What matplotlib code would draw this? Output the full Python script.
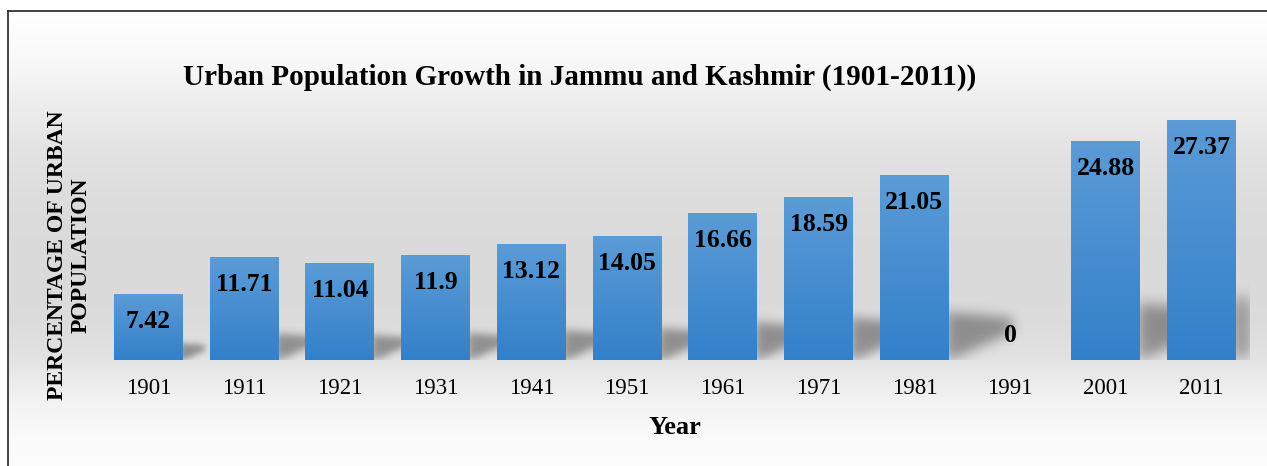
import numpy as np
import matplotlib
matplotlib.use("Agg")
import matplotlib.pyplot as plt
from matplotlib.path import Path
from matplotlib.lines import Line2D
from matplotlib.colors import LinearSegmentedColormap

# Data
years = ['1901', '1911', '1921', '1931', '1941', '1951',
         '1961', '1971', '1981', '1991', '2001', '2011']
urban_pct = [7.42, 11.71, 11.04, 11.9, 13.12, 14.05,
             16.66, 18.59, 21.05, 0, 24.88, 27.37]

# Layout (pixels of the 1267x466 canvas)
FIG_W, FIG_H = 1267, 466
AX_LEFT, AX_RIGHT = 100.6, 1249.4
AX_TOP, AX_BOTTOM = 97.0, 360.0
Y_MAX = 30
BAR_W = 0.72

plt.rcParams['font.family'] = ['Liberation Serif', 'DejaVu Serif']


def blur(arr, sigma):
    """Separable gaussian blur with plain numpy."""
    r = int(3 * sigma) + 1
    k = np.exp(-0.5 * (np.arange(-r, r + 1) / sigma) ** 2)
    k /= k.sum()
    arr = np.apply_along_axis(lambda m: np.convolve(m, k, mode='same'), 0, arr)
    arr = np.apply_along_axis(lambda m: np.convolve(m, k, mode='same'), 1, arr)
    return arr


fig = plt.figure(figsize=(FIG_W / 100, FIG_H / 100), dpi=100)

# grey background gradient inside the frame (one image row per pixel row)
bg_ax = fig.add_axes([8 / FIG_W, 0, 1 - 8 / FIG_W, 1 - 11 / FIG_H])
bg_ax.set_axis_off()
rows = np.arange(11, FIG_H) + 0.5
shade = np.interp(rows, [11, 60, 100, 150, 200, 260, 320, 355, 400, 440, 466],
                  [1.0, 0.975, 0.935, 0.89, 0.865, 0.855, 0.86, 0.885, 0.95, 0.985, 0.99])
bg_img = np.repeat(shade[:, None], 3, axis=1)[:, None, :].repeat(FIG_W - 8, axis=1)
bg_ax.imshow(bg_img, aspect='auto', extent=[0, 1, 0, 1], interpolation='nearest')

# frame lines (top and left)
fig.add_artist(Line2D([8 / FIG_W, 1], [1 - 11 / FIG_H] * 2, color='#222222', lw=1.2))
fig.add_artist(Line2D([8 / FIG_W] * 2, [0, 1 - 11 / FIG_H], color='#222222', lw=1.2))

ax = fig.add_axes([AX_LEFT / FIG_W, 1 - AX_BOTTOM / FIG_H,
                   (AX_RIGHT - AX_LEFT) / FIG_W, (AX_BOTTOM - AX_TOP) / FIG_H])
ax.patch.set_alpha(0)

x = np.arange(len(years))
bars = ax.bar(x, urban_pct, width=BAR_W, color='none', zorder=3)

# perspective shadows behind the bars
px_cat = (AX_RIGHT - AX_LEFT) / len(years)
px_unit = (AX_BOTTOM - AX_TOP) / Y_MAX
nx, ny = int(round(AX_RIGHT - AX_LEFT)), int(round(AX_BOTTOM - AX_TOP))
gx, gy = np.meshgrid(np.arange(nx) + 0.5, np.arange(ny) + 0.5)
pts = np.column_stack([gx.ravel(), gy.ravel()])
shadow = np.zeros((ny, nx))
for i, v in enumerate(urban_pct):
    if v <= 0:
        continue
    h = v * px_unit
    xr = (i + 0.5 + BAR_W / 2) * px_cat
    poly = Path([(xr - 3, -2), (xr - 3, 0.26 * h), (xr + 0.34 * h, 0.23 * h),
                 (xr + 0.34 * h, 0.15 * h)])
    m = poly.contains_points(pts).reshape(ny, nx).astype(float)
    shadow = np.maximum(shadow, blur(m, 1.5 + 0.025 * h))
rgba = np.zeros((ny, nx, 4))
rgba[..., 3] = shadow * 0.36
ax.imshow(rgba, extent=[-0.5, len(years) - 0.5, 0, Y_MAX], origin='lower',
          aspect='auto', zorder=1, interpolation='nearest')

# blue vertical gradient on each bar
bar_cmap = LinearSegmentedColormap.from_list('bar', ['#3380ca', '#5b9bd6'])
grad = np.linspace(0, 1, 256)[:, None]
for b in bars:
    if b.get_height() <= 0:
        continue
    ax.imshow(grad, cmap=bar_cmap, origin='lower', aspect='auto', zorder=3,
              extent=[b.get_x(), b.get_x() + b.get_width(), 0, b.get_height()])

# value labels (inside end)
for i, v in enumerate(urban_pct):
    off = -27 if v > 0 else 25
    ax.annotate(f'{v:g}', (i, v), xytext=(0, off), textcoords='offset pixels',
                ha='center', va='center', fontsize=18.5, fontweight='bold', zorder=4)

ax.set_xlim(-0.5, len(years) - 0.5)
ax.set_ylim(0, Y_MAX)
ax.set_xticks(x, years)
ax.set_yticks([])
ax.tick_params(axis='x', length=0, pad=13, labelsize=16.5)
for s in ax.spines.values():
    s.set_visible(False)

fig.text(580 / FIG_W, 1 - 77 / FIG_H,
         'Urban Population Growth in Jammu and Kashmir (1901-2011))',
         ha='center', va='center', fontsize=21, fontweight='bold')
fig.text(675 / FIG_W, 1 - 427 / FIG_H, 'Year', ha='center', va='center',
         fontsize=19, fontweight='bold')
fig.text(69 / FIG_W, 1 - 255 / FIG_H, 'PERCENTAGE OF URBAN\nPOPULATION',
         ha='center', va='center', rotation=90, fontsize=17, fontweight='bold',
         linespacing=1.15)

fig.savefig('out.png', dpi=100)
